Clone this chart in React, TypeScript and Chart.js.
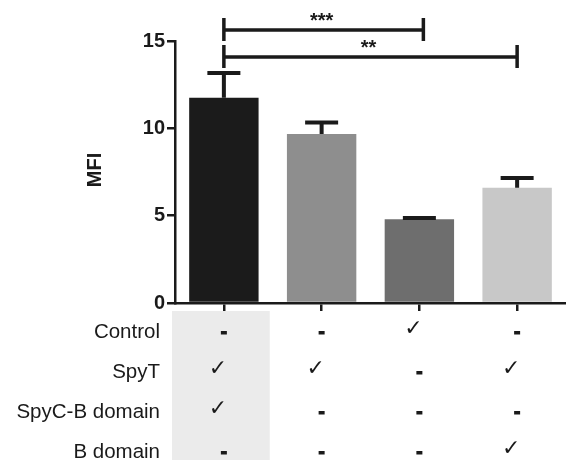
import React, { useEffect, useRef } from "react";
import { Chart, registerables } from "chart.js";

Chart.register(...registerables);

const categories = ["G1", "G2", "G3", "G4"];
const means = [11.75, 9.68, 4.8, 6.6];
const errors = [1.42, 0.65, 0.06, 0.56];
const barColors = ["#1b1b1b", "#8e8e8e", "#6e6e6e", "#c8c8c8"];
const yTicks = [0, 5, 10, 15];

const rowLabels = ["Control", "SpyT", "SpyC-B domain", "B domain"];
const rowMarks = [
  [false, false, true, false],
  [true, true, false, true],
  [true, false, false, false],
  [false, false, false, true],
];

// significance brackets: [from index, to index, label, height in data units]
const bracketFrom = [0, 0];
const bracketTo = [2, 3];
const bracketLabels = ["***", "**"];
const bracketLevels = [15.63, 14.08];

const FONT = "'Liberation Sans', Arial, sans-serif";

const overlayPlugin = {
  id: "overlay",
  afterDatasetsDraw(chart: any) {
    const ctx = chart.ctx;
    const x = chart.scales.x;
    const y = chart.scales.y;
    ctx.save();
    ctx.strokeStyle = "#1a1a1a";
    ctx.lineWidth = 4;
    ctx.lineCap = "butt";
    means.forEach((m, i) => {
      const cx = x.getPixelForValue(i);
      const top = y.getPixelForValue(m + errors[i]);
      const base = y.getPixelForValue(m);
      ctx.beginPath();
      ctx.moveTo(cx, base);
      ctx.lineTo(cx, top);
      ctx.moveTo(cx - 16.5, top);
      ctx.lineTo(cx + 16.5, top);
      ctx.stroke();
    });
    ctx.restore();
  },
  afterDraw(chart: any) {
    const ctx = chart.ctx;
    const x = chart.scales.x;
    const y = chart.scales.y;
    ctx.save();
    ctx.strokeStyle = "#1a1a1a";
    ctx.lineWidth = 3.5;
    bracketLevels.forEach((lvl, k) => {
      const x1 = x.getPixelForValue(bracketFrom[k]);
      const x2 = x.getPixelForValue(bracketTo[k]) + (k === 0 ? 4 : 0);
      const py = y.getPixelForValue(lvl);
      ctx.beginPath();
      ctx.moveTo(x1, py);
      ctx.lineTo(x2, py);
      ctx.moveTo(x1, py - 12);
      ctx.lineTo(x1, py + 11);
      ctx.moveTo(x2, py - 12);
      ctx.lineTo(x2, py + 11);
      ctx.stroke();
      ctx.fillStyle = "#1a1a1a";
      ctx.font = `bold 20px ${FONT}`;
      ctx.textAlign = "center";
      ctx.textBaseline = "middle";
      ctx.fillText(bracketLabels[k], (x1 + x2) / 2 - 2, py - 9);
    });

    ctx.save();
    ctx.translate(95, 170);
    ctx.rotate(-Math.PI / 2);
    ctx.font = `bold 20px ${FONT}`;
    ctx.fillStyle = "#1a1a1a";
    ctx.textAlign = "center";
    ctx.textBaseline = "middle";
    ctx.fillText("MFI", 0, 0);
    ctx.restore();

    const c0 = x.getPixelForValue(0);
    const colW = x.getPixelForValue(1) - c0;
    ctx.fillStyle = "#ebebeb";
    ctx.fillRect(c0 - colW / 2 - 3, chart.chartArea.bottom + 8, colW, chart.height - chart.chartArea.bottom - 8);

    const rowStart = chart.chartArea.bottom + 29;
    const rowGap = 40;
    rowLabels.forEach((lab, r) => {
      const ry = rowStart + r * rowGap;
      ctx.fillStyle = "#1a1a1a";
      ctx.font = `20.5px ${FONT}`;
      ctx.textAlign = "right";
      ctx.textBaseline = "middle";
      ctx.fillText(lab, 160, ry);
      rowMarks[r].forEach((on, i) => {
        const cx = x.getPixelForValue(i);
        if (on) {
          ctx.font = `bold 22px 'DejaVu Sans', sans-serif`;
          ctx.textAlign = "center";
          ctx.fillText("\u2713", cx - 6, ry - 3);
        } else {
          ctx.fillRect(cx - 3, ry - 1, 6, 3.5);
        }
      });
    });
    ctx.restore();
  },
};

export default function App() {
  const ref = useRef<HTMLCanvasElement | null>(null);
  useEffect(() => {
    if (!ref.current) return;
    const chart = new Chart(ref.current, {
      type: "bar",
      data: {
        labels: categories,
        datasets: [
          {
            data: means,
            backgroundColor: barColors,
            borderWidth: 0,
            barPercentage: 1,
            categoryPercentage: 0.71,
          },
        ],
      },
      options: {
        animation: false,
        responsive: false,
        maintainAspectRatio: false,
        layout: { padding: { top: 41, right: 0, left: 0, bottom: 0 } },
        plugins: { legend: { display: false }, tooltip: { enabled: false } },
        scales: {
          x: {
            afterFit: (s: any) => {
              s.height = 157;
            },
            ticks: { display: false },
            grid: {
              display: true,
              drawOnChartArea: false,
              offset: false,
              tickLength: 8,
              color: "#1a1a1a",
              lineWidth: 2.5,
            },
            border: { display: true, color: "#1a1a1a", width: 2.5 },
          },
          y: {
            min: 0,
            max: 15,
            afterFit: (s: any) => {
              s.width = 175;
            },
            afterBuildTicks: (s: any) => {
              s.ticks = yTicks.map((v) => ({ value: v }));
            },
            ticks: {
              padding: 2,
              color: "#1a1a1a",
              font: { family: FONT, size: 20, weight: "bold" },
            },
            grid: {
              display: true,
              drawOnChartArea: false,
              tickLength: 8,
              color: "#1a1a1a",
              lineWidth: 2.5,
            },
            border: { display: true, color: "#1a1a1a", width: 2.5 },
          },
        },
      },
      plugins: [overlayPlugin],
    });
    return () => chart.destroy();
  }, []);
  return (
    <div style={{ position: "fixed", left: 0, top: 0, width: 566, height: 460, background: "#fff" }}>
      <canvas ref={ref} width={566} height={460} style={{ display: "block" }} />
    </div>
  );
}
